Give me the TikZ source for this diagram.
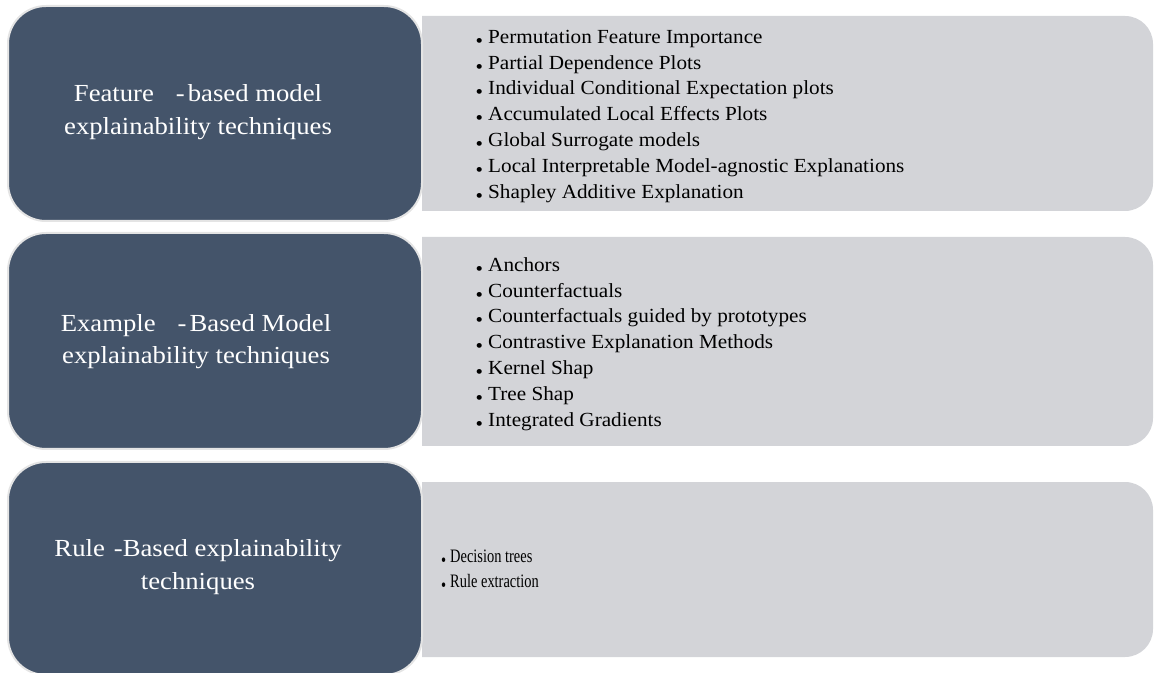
\documentclass[tikz,border=0pt]{standalone}
\usepackage{fontspec}
\setmainfont{Liberation Serif}
\newfontfamily\headfont[FakeStretch=1.09]{Liberation Serif}
\newfontfamily\listfont[FakeStretch=1.06]{Liberation Serif}
\newfontfamily\narrowfont[FakeStretch=0.76]{Liberation Serif}

\definecolor{slate}{HTML}{44546A}
\definecolor{panel}{HTML}{D3D4D8}
\definecolor{rim}{HTML}{E4E4E4}

% small bullet sitting on the baseline
\newcommand{\itemdot}[1][12.5pt]{\makebox[#1][l]{\raisebox{-0.2em}{\textbullet}}}

\begin{document}
\begin{tikzpicture}
    [x=1pt, y=1pt,
    catbox/.style={draw=rim, line width=2pt, fill=slate, rounded corners=38pt,
      minimum width=414pt, inner sep=0pt},
    cattext/.style={text=white, align=center, inner sep=0pt,
      font=\fontsize{24.5}{32.6}\selectfont\headfont},
    itemtext/.style={anchor=north west, align=left, inner sep=0pt,
      font=\fontsize{20}{25.8}\selectfont\listfont}]
    \useasboundingbox (0,0) rectangle (1155,672);

    % grey panels, square on the left, round on the right
    \fill[panel] (422,656) -- (1125,656) arc[start angle=90, end angle=0, radius=28pt]
      -- (1153,489) arc[start angle=0, end angle=-90, radius=28pt] -- (422,461) -- cycle;
    \fill[panel] (422,435) -- (1125,435) arc[start angle=90, end angle=0, radius=28pt]
      -- (1153,254) arc[start angle=0, end angle=-90, radius=28pt] -- (422,226) -- cycle;
    \fill[panel] (422,190) -- (1125,190) arc[start angle=90, end angle=0, radius=28pt]
      -- (1153,43) arc[start angle=0, end angle=-90, radius=28pt] -- (422,15) -- cycle;

    % category boxes
    \node[catbox, minimum height=215pt] (featbox) at (215,558.5) {};
    \node[catbox, minimum height=216pt] (exbox) at (215,331) {};
    \node[catbox, minimum height=213pt] (rulebox) at (215,103.5) {};

    \node[cattext] (featlbl) at (198,559.9)
      {Feature\hspace{22pt}-\kern3pt{}based model\\explainability techniques};
    \node[cattext] (exlbl) at (196,330.5)
      {Example\hspace{22pt}-\kern3pt{}Based Model\\explainability techniques};
    \node[cattext] (rulelbl) at (198,104.9)
      {Rule\hspace{9pt}-Based explainability\\techniques};

    % technique lists
    \node[itemtext] (featlist) at (475.5,642.2) {
      \itemdot Permutation Feature Importance\\
      \itemdot Partial Dependence Plots\\
      \itemdot Individual Conditional Expectation plots\\
      \itemdot Accumulated Local Effects Plots\\
      \itemdot Global Surrogate models\\
      \itemdot Local Interpretable Model-agnostic Explanations\\
      \itemdot Shapley Additive Explanation};
    \node[itemtext] (exlist) at (475.5,414.7) {
      \itemdot Anchors\\
      \itemdot Counterfactuals\\
      \itemdot Counterfactuals guided by prototypes\\
      \itemdot Contrastive Explanation Methods\\
      \itemdot Kernel Shap\\
      \itemdot Tree Shap\\
      \itemdot Integrated Gradients};
    \node[itemtext, font=\fontsize{19}{25}\selectfont\narrowfont] (rulelist) at (441,122) {
      \itemdot[9pt]Decision trees\\
      \itemdot[9pt]Rule extraction};
\end{tikzpicture}
\end{document}
